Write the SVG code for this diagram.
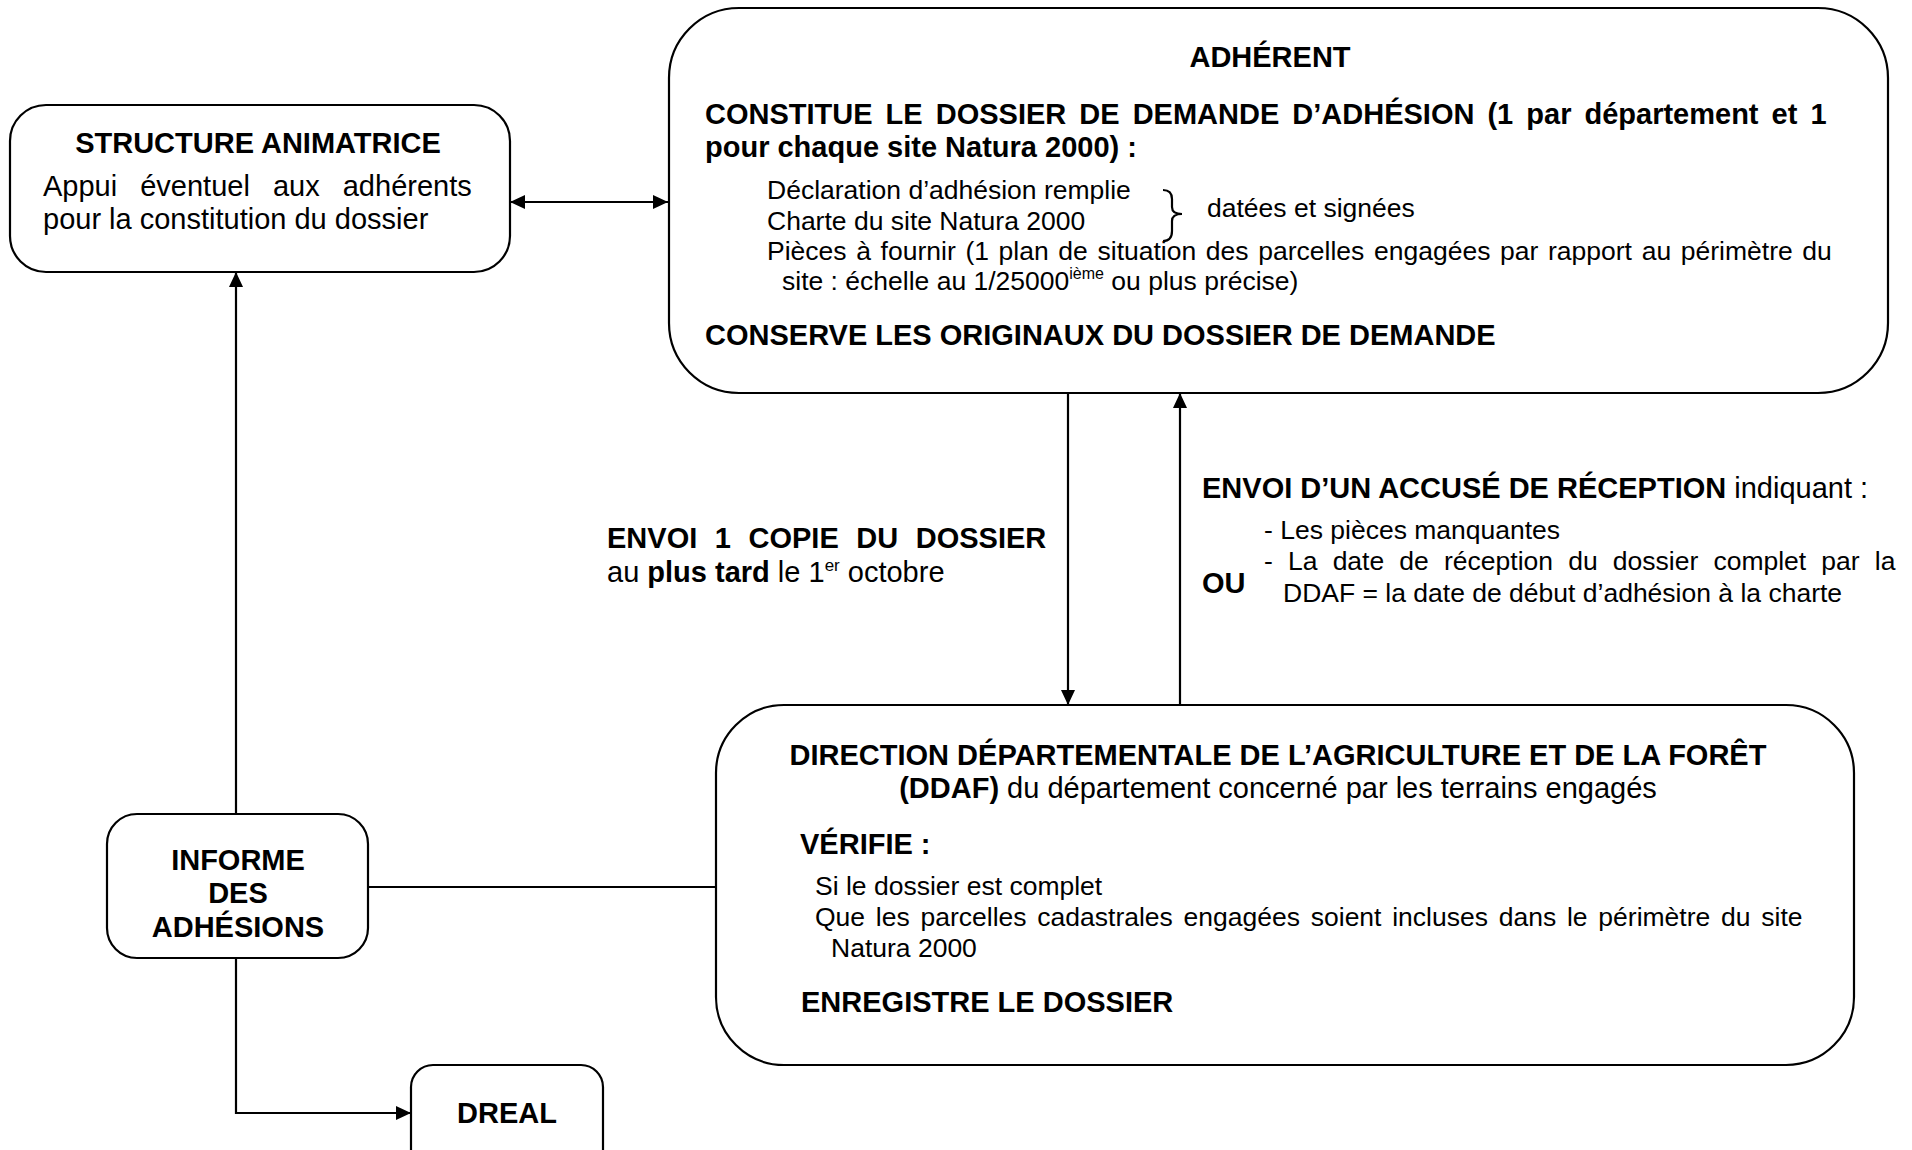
<svg xmlns="http://www.w3.org/2000/svg" width="1912" height="1150" viewBox="0 0 1912 1150">
<style>
.box{fill:#fff;stroke:#000;stroke-width:2.2}
.ln{fill:none;stroke:#000;stroke-width:2.2}
text{font-family:"Liberation Sans",Arial,sans-serif;fill:#000}
.b{font-weight:bold;font-size:29px}
.r{font-size:29px}
.s{font-size:26.5px}
.c{text-anchor:middle}
</style>
<defs>
<marker id="ah" markerUnits="userSpaceOnUse" markerWidth="15" markerHeight="14" refX="15" refY="7" orient="auto-start-reverse" viewBox="0 0 15 14">
<path d="M0,0 L15,7 L0,14 z" fill="#000"/>
</marker>
</defs>
<rect width="1912" height="1150" fill="#fff"/>

<g id="connectors">
<path class="ln" d="M510,202 L668,202" marker-start="url(#ah)" marker-end="url(#ah)"/>
<path class="ln" d="M1068,393 L1068,705" marker-end="url(#ah)"/>
<path class="ln" d="M1180,705 L1180,393" marker-end="url(#ah)"/>
<path class="ln" d="M236,814 L236,272" marker-end="url(#ah)"/>
<path class="ln" d="M368,887 L718,887"/>
<path class="ln" d="M236,958 L236,1113 L411,1113" marker-end="url(#ah)"/>
</g>

<g id="structure-animatrice">
<rect class="box" x="10" y="105" width="500" height="167" rx="36" ry="36"/>
<text class="b c" x="258" y="153">STRUCTURE ANIMATRICE</text>
<text class="r" x="43" y="196" style="word-spacing:15px">Appui éventuel aux adhérents</text>
<text class="r" x="43" y="229">pour la constitution du dossier</text>
</g>

<g id="adherent">
<rect class="box" x="669" y="8" width="1219" height="385" rx="70" ry="70"/>
<text class="b c" x="1270" y="67">ADHÉRENT</text>
<text class="b" x="705" y="124" style="word-spacing:5px">CONSTITUE LE DOSSIER DE DEMANDE D’ADHÉSION (1 par département et 1</text>
<text class="b" x="705" y="157">pour chaque site Natura 2000) :</text>
<text class="s" x="767" y="199">Déclaration d’adhésion remplie</text>
<text class="s" x="767" y="230">Charte du site Natura 2000</text>
<path class="ln" stroke-width="1.8" d="M1163,190 Q1172,190 1172,199 L1172,207 Q1172,214 1182,214 Q1172,214 1172,221 L1172,231 Q1172,241 1163,241"/>
<text class="s" x="1207" y="217">datées et signées</text>
<text class="s" x="767" y="260" style="word-spacing:2.3px">Pièces à fournir (1 plan de situation des parcelles engagées par rapport au périmètre du</text>
<text class="s" x="782" y="290">site : échelle au 1/25000<tspan font-size="16" dy="-11">ième</tspan><tspan dy="11"> ou plus précise)</tspan></text>
<text class="b" x="705" y="345">CONSERVE LES ORIGINAUX DU DOSSIER DE DEMANDE</text>
</g>

<g id="label-envoi-copie">
<text class="b" x="607" y="548" style="word-spacing:9.5px">ENVOI 1 COPIE DU DOSSIER</text>
<text class="r" x="607" y="582">au <tspan font-weight="bold">plus tard</tspan> le 1<tspan font-size="17" dy="-11">er</tspan><tspan dy="11"> octobre</tspan></text>
</g>

<g id="label-accuse">
<text class="r" x="1202" y="498"><tspan font-weight="bold">ENVOI D’UN ACCUSÉ DE RÉCEPTION</tspan> indiquant :</text>
<text class="s" x="1264" y="539">- Les pièces manquantes</text>
<text class="s" x="1264" y="570" style="word-spacing:7.8px">- La date de réception du dossier complet par la</text>
<text class="b" x="1202" y="593">OU</text>
<text class="s" x="1283" y="602">DDAF = la date de début d’adhésion à la charte</text>
</g>

<g id="ddaf">
<rect class="box" x="716" y="705" width="1138" height="360" rx="68" ry="68"/>
<text class="b c" x="1278" y="765">DIRECTION DÉPARTEMENTALE DE L’AGRICULTURE ET DE LA FORÊT</text>
<text class="r c" x="1278" y="798"><tspan font-weight="bold">(DDAF)</tspan> du département concerné par les terrains engagés</text>
<text class="b" x="800" y="854">VÉRIFIE :</text>
<text class="s" x="815" y="895">Si le dossier est complet</text>
<text class="s" x="815" y="926" style="word-spacing:3.4px">Que les parcelles cadastrales engagées soient incluses dans le périmètre du site</text>
<text class="s" x="831" y="957">Natura 2000</text>
<text class="b" x="801" y="1012">ENREGISTRE LE DOSSIER</text>
</g>

<g id="informe">
<rect class="box" x="107" y="814" width="261" height="144" rx="30" ry="30"/>
<text class="b c" x="238" y="870">INFORME</text>
<text class="b c" x="238" y="903">DES</text>
<text class="b c" x="238" y="937">ADHÉSIONS</text>
</g>

<g id="dreal">
<rect class="box" x="411" y="1065" width="192" height="110" rx="22" ry="22"/>
<text class="b c" x="507" y="1123">DREAL</text>
</g>
</svg>
